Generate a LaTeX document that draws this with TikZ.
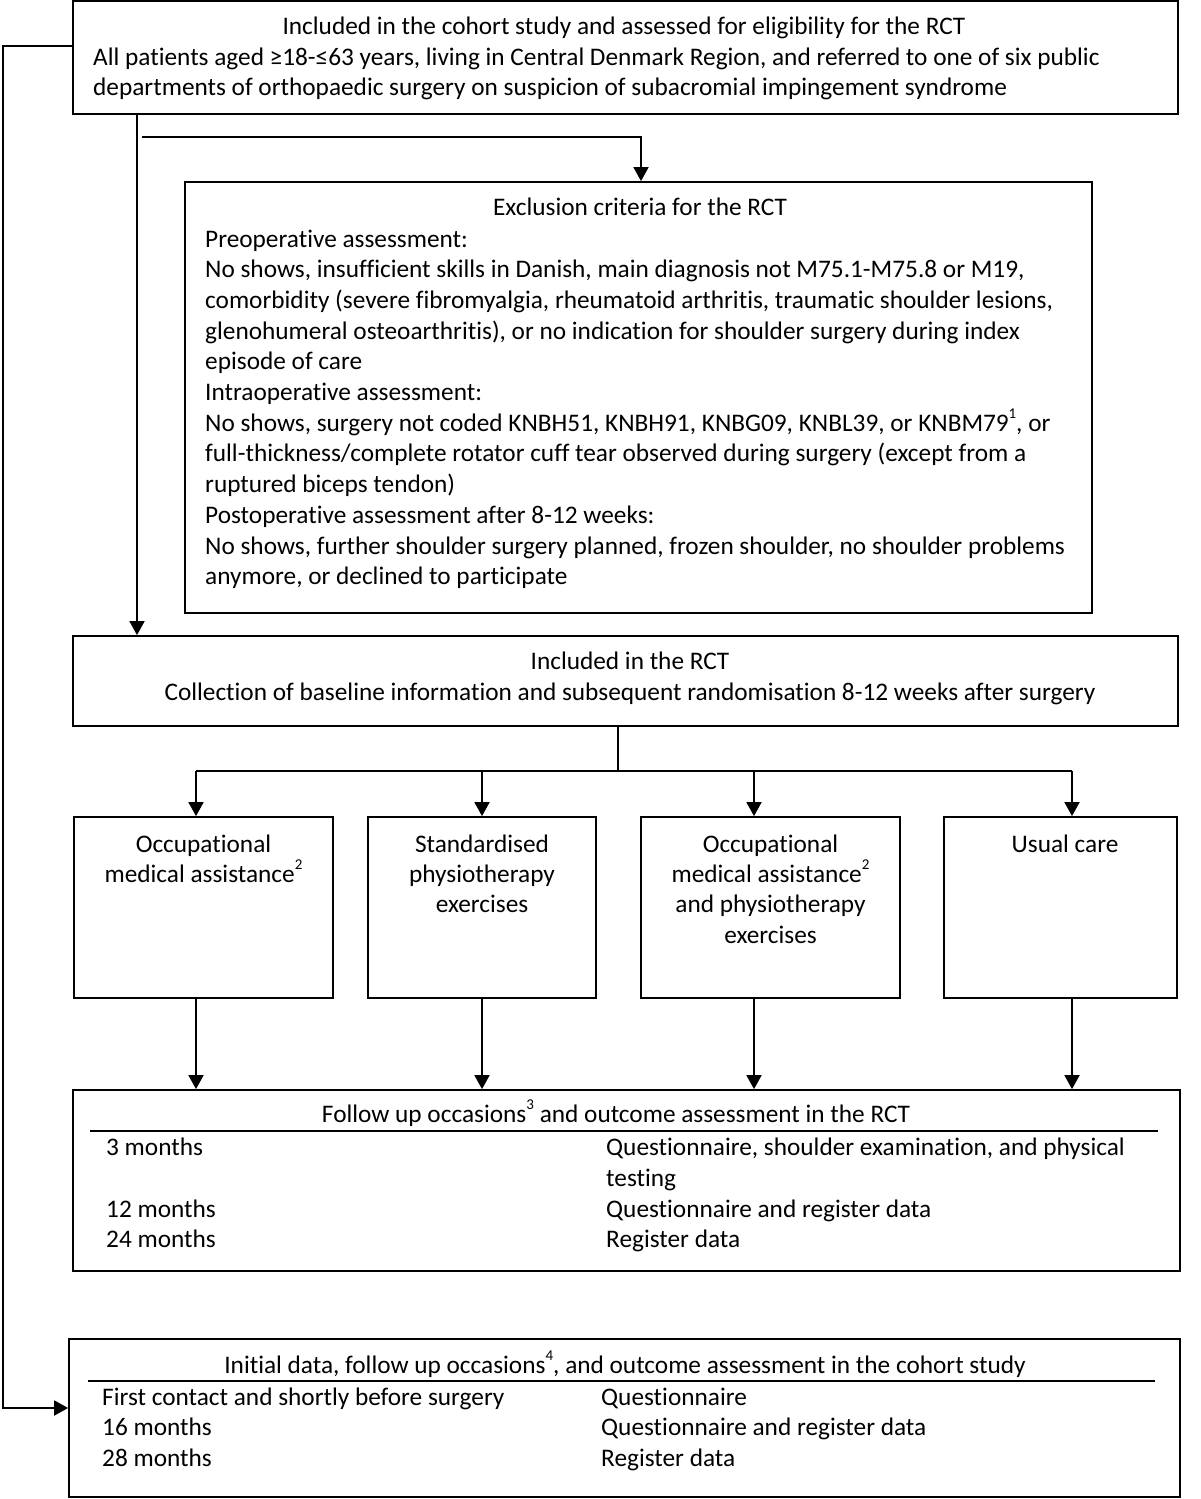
\documentclass[tikz,border=0pt]{standalone}
\usepackage{fontspec}
\setmainfont{Carlito}[Ligatures={NoCommon}]
\usetikzlibrary{arrows.meta,fit}
\newcommand\supn[1]{\raisebox{13pt}{\fontsize{15}{15}\selectfont #1}}
\begin{document}
\begin{tikzpicture}[x=1pt,y=-1pt,
  box/.style={draw,line width=1.8pt,inner sep=0pt,rectangle},
  txt/.style={inner sep=0pt,font=\fontsize{25.3}{30}\selectfont,anchor=base},
  txtl/.style={txt,anchor=base west},
  ln/.style={line width=1.8pt},
  arr/.style={line width=1.8pt,-{Triangle[length=14pt,width=15pt]}},
  rulestyle/.style={line width=1.2pt}]
\useasboundingbox (0,0) rectangle (1200,1499);
% boxes
\node[box,fit={(73,1) (1178,114)}] (b1) {};
\node[box,fit={(185,182) (1092,613)}] (b2) {};
\node[box,fit={(73,636) (1178,726)}] (b3) {};
\node[box,fit={(74,817) (333,998)}] (b4) {};
\node[box,fit={(368,817) (596,998)}] (b5) {};
\node[box,fit={(641,817) (900,998)}] (b6) {};
\node[box,fit={(944,817) (1177,998)}] (b7) {};
\node[box,fit={(73,1090) (1180,1271)}] (b8) {};
\node[box,fit={(69,1339) (1180,1497)}] (b9) {};
% box 1 text
\node[txt] (t1a) at (624,34) {Included in the cohort study and assessed for eligibility for the RCT};
\node[txtl] (t1b) at (93,65) {All patients aged ≥18-≤63 years, living in Central Denmark Region, and referred to one of six public};
\node[txtl] (t1c) at (93,95) {departments of orthopaedic surgery on suspicion of subacromial impingement syndrome};
% box 2 text
\node[txt] (t2) at (640,215) {Exclusion criteria for the RCT};
\foreach \t [count=\i from 0] in {
  {Preoperative assessment:},
  {No shows, insufficient skills in Danish, main diagnosis not M75.1-M75.8 or M19,},
  {comorbidity (severe fibromyalgia, rheumatoid arthritis, traumatic shoulder lesions,},
  {glenohumeral osteoarthritis), or no indication for shoulder surgery during index},
  {episode of care},
  {Intraoperative assessment:},
  {No shows, surgery not coded KNBH51, KNBH91, KNBG09, KNBL39, or KNBM79\supn{1}, or},
  {full-thickness/complete rotator cuff tear observed during surgery (except from a},
  {ruptured biceps tendon)},
  {Postoperative assessment after 8-12 weeks:},
  {No shows, further shoulder surgery planned, frozen shoulder, no shoulder problems},
  {anymore, or declined to participate}}
  \node[txtl] (ex\i) at (205,{247+30.7*\i}) {\t};
% box 3 text
\node[txt] (t3a) at (630,669) {Included in the RCT};
\node[txt] (t3b) at (630,700) {Collection of baseline information and subsequent randomisation 8-12 weeks after surgery};
% arm boxes
\node[txt] (t4a) at (203.5,852) {Occupational};
\node[txt] (t4b) at (203.5,882) {medical assistance\supn{2}};
\node[txt] (t5a) at (482,852) {Standardised};
\node[txt] (t5b) at (482,882) {physiotherapy};
\node[txt] (t5c) at (482,912) {exercises};
\node[txt] (t6a) at (770.5,852) {Occupational};
\node[txt] (t6b) at (770.5,882) {medical assistance\supn{2}};
\node[txt] (t6c) at (770.5,912) {and physiotherapy};
\node[txt] (t6d) at (770.5,943) {exercises};
\node[txt] (t7a) at (1065,852) {Usual care};
% box 8
\node[txt] (t8) at (616,1122) {Follow up occasions\supn{3} and outcome assessment in the RCT};
\coordinate (r8a) at (90,1131); \coordinate (r8b) at (1158,1131);
\draw[rulestyle] (r8a) -- (r8b);
\node[txtl] (m1) at (106,1155) {3 months};
\node[txtl] (m1r) at (606,1155) {Questionnaire, shoulder examination, and physical};
\node[txtl] (m1s) at (606,1186) {testing};
\node[txtl] (m2) at (106,1217) {12 months};
\node[txtl] (m2r) at (606,1217) {Questionnaire and register data};
\node[txtl] (m3) at (106,1247) {24 months};
\node[txtl] (m3r) at (606,1247) {Register data};
% box 9
\node[txt] (t9) at (625,1373) {Initial data, follow up occasions\supn{4}, and outcome assessment in the cohort study};
\coordinate (r9a) at (88,1381); \coordinate (r9b) at (1155,1381);
\draw[rulestyle] (r9a) -- (r9b);
\node[txtl] (n1) at (102,1405) {First contact and shortly before surgery};
\node[txtl] (n1r) at (601,1405) {Questionnaire};
\node[txtl] (n2) at (102,1435) {16 months};
\node[txtl] (n2r) at (601,1435) {Questionnaire and register data};
\node[txtl] (n3) at (102,1466) {28 months};
\node[txtl] (n3r) at (601,1466) {Register data};
% connectors
\coordinate (k1) at (3,46); \coordinate (k2) at (3,1408);
\draw[arr] (b1.west |- k1) -- (k1) -- (k2) -- (b9.west |- k2);
\coordinate (d1) at (137,0);
\draw[arr] (b1.south -| d1) -- (b3.north -| d1);
\coordinate (br0) at (142,137); \coordinate (br1) at (641,137);
\draw[arr] (br0) -- (br1) -- (b2.north -| br1);
\coordinate (sp) at (618,771);
\coordinate (s4) at (196,771); \coordinate (s5) at (482,771);
\coordinate (s6) at (754,771); \coordinate (s7) at (1072,771);
\draw[ln] (b3.south -| sp) -- (sp);
\draw[ln] (s4) -- (s7);
\draw[arr] (s4) -- (b4.north -| s4);
\draw[arr] (s5) -- (b5.north -| s5);
\draw[arr] (s6) -- (b6.north -| s6);
\draw[arr] (s7) -- (b7.north -| s7);
\draw[arr] (b4.south -| s4) -- (b8.north -| s4);
\draw[arr] (b5.south -| s5) -- (b8.north -| s5);
\draw[arr] (b6.south -| s6) -- (b8.north -| s6);
\draw[arr] (b7.south -| s7) -- (b8.north -| s7);
\end{tikzpicture}
\end{document}
